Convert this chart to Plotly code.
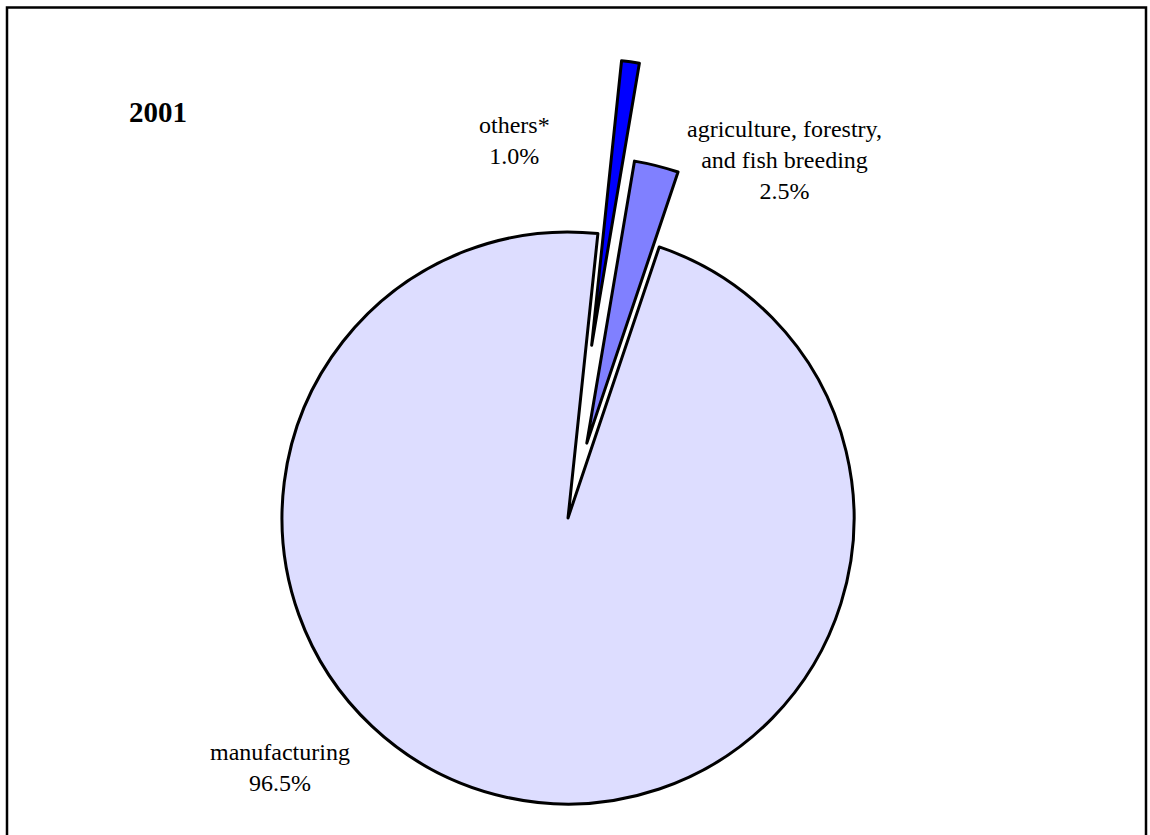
import math
import plotly.graph_objects as go

# ---- data ----
categories = ["others*", "agriculture, forestry,<br>and fish breeding", "manufacturing"]
values = [1.0, 2.5, 96.5]
title_text = "2001"

# ---- style ----
colors = ["#0000FF", "#8080FF", "#DDDDFF"]
pulls = [0.61, 0.27, 0.0]
W, H = 1150, 835
rotation = 6.0
R_PX = 286.0
CX_PX, CY_PX = 568.0, 518.0
label_pos = [(514, 140), (785, 160), (280, 767)]
FONT = "Liberation Serif, Times New Roman, serif"

fig = go.Figure()
total = sum(values)
cum = 0.0
for i, v in enumerate(values):
    mid = math.radians(rotation + 360.0 * (cum + v / 2.0) / total)
    cum += v
    dx = pulls[i] * R_PX * math.sin(mid)
    dy = -pulls[i] * R_PX * math.cos(mid)
    cx = CX_PX + dx
    cy = CY_PX + dy
    dom_x = [(cx - R_PX) / W, (cx + R_PX) / W]
    dom_y = [1 - (cy + R_PX) / H, 1 - (cy - R_PX) / H]
    cols = ["rgba(0,0,0,0)"] * len(values)
    cols[i] = colors[i]
    widths = [0] * len(values)
    widths[i] = 3
    fig.add_trace(go.Pie(
        labels=categories, values=values, sort=False, direction="clockwise",
        rotation=rotation, domain=dict(x=dom_x, y=dom_y),
        marker=dict(colors=cols, line=dict(color="black", width=widths)),
        textinfo="none", hoverinfo="skip", showlegend=False,
    ))

for i, v in enumerate(values):
    x, y = label_pos[i]
    fig.add_annotation(
        x=x / W, y=1 - y / H, xref="paper", yref="paper",
        text=f"{categories[i]}<br>{100 * v / total:.1f}%",
        showarrow=False, xanchor="center", yanchor="middle", align="center",
        font=dict(family=FONT, size=24, color="black"),
    )

fig.add_annotation(
    x=158 / W, y=1 - 112 / H, xref="paper", yref="paper",
    text=f"<b>{title_text}</b>", showarrow=False,
    xanchor="center", yanchor="middle",
    font=dict(family=FONT, size=29, color="black"),
)

fig.add_shape(type="rect", xref="paper", yref="paper",
              x0=7 / W, x1=1146 / W, y0=-0.02, y1=1 - 7.5 / H,
              line=dict(color="black", width=2.5), fillcolor="rgba(0,0,0,0)")

fig.update_layout(
    width=W, height=H, margin=dict(l=0, r=0, t=0, b=0),
    paper_bgcolor="white", plot_bgcolor="white",
)

fig.write_html("out.html")
